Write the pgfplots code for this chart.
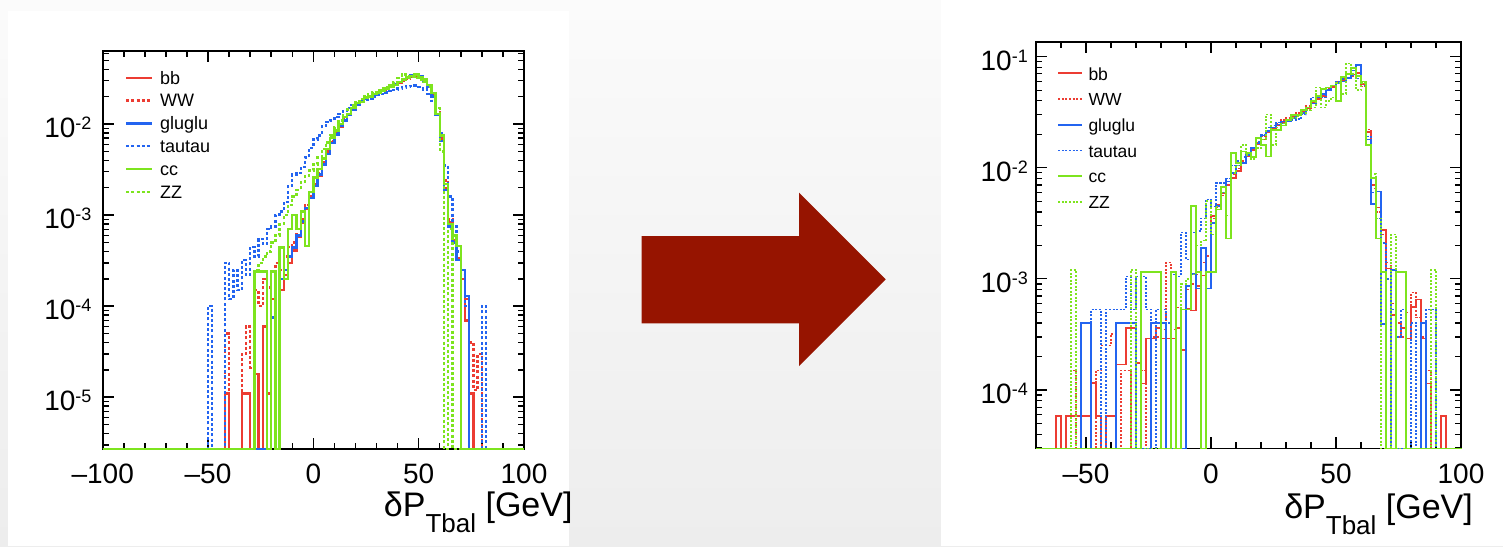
\documentclass[border=0pt]{standalone}
\usepackage{pgfplots}
\pgfplotsset{compat=1.18}
\usepackage{fontspec}
\setmainfont{Liberation Sans}
\definecolor{hred}{RGB}{236,60,50}
\definecolor{hblue}{RGB}{35,100,240}
\definecolor{hgreen}{RGB}{125,228,30}
\definecolor{arrowred}{RGB}{150,20,0}
\newcommand{\ex}[1]{10\raisebox{8.5pt}{\fontsize{18}{18}\selectfont #1}}
\begin{document}
\begin{tikzpicture}
\useasboundingbox (0pt,0pt) rectangle (1503pt,-546pt);
\shade[top color={rgb,255:red,251;green,251;blue,251}, bottom color={rgb,255:red,237;green,237;blue,237}] (0pt,0pt) rectangle (1503pt,-546pt);
\fill[white] (8pt,-11pt) rectangle (569pt,-546pt);
\fill[white] (940.7pt,0pt) rectangle (1503pt,-546pt);
\fill[arrowred] (641.7pt,-236pt) -- (799pt,-236pt) -- (799pt,-192.7pt) -- (885.7pt,-279.3pt) -- (799pt,-366pt) -- (799pt,-323.3pt) -- (641.7pt,-323.3pt) -- cycle;

% ---------------- LEFT ----------------
\begin{axis}[
  at={(102.7pt,-449pt)}, anchor=south west,
  scale only axis, width=421.3pt, height=398.3pt,
  ymode=log, xmin=-100, xmax=100, ymin=2.7e-6, ymax=0.064,
  clip=false,
  axis line style={line width=1.8pt},
  every tick/.style={black, line width=1.5pt},
  major tick length=11pt, minor tick length=6pt,
  xtick={-100,-50,0,50,100}, xticklabels={–100,–50,0,50,100},
  minor xtick={-90,-80,-70,-60,-40,-30,-20,-10,10,20,30,40,60,70,80,90},
  ytick={1e-5,1e-4,1e-3,1e-2},
  yticklabels={\ex{-5},\ex{-4},\ex{-3},\ex{-2}},
  minor ytick={3e-6,4e-6,5e-6,6e-6,7e-6,8e-6,9e-6,2e-5,3e-5,4e-5,5e-5,6e-5,7e-5,8e-5,9e-5,2e-4,3e-4,4e-4,5e-4,6e-4,7e-4,8e-4,9e-4,2e-3,3e-3,4e-3,5e-3,6e-3,7e-3,8e-3,9e-3,2e-2,3e-2,4e-2,5e-2,6e-2},
  xticklabel style={anchor=base, yshift=-34.7pt, inner sep=0pt, font=\fontsize{28}{28}\selectfont},
  yticklabel style={anchor=base east, xshift=-11pt, yshift=-13.5pt, inner sep=0pt, font=\fontsize{28}{28}\selectfont},
  legend style={at={(0.0529,0.9465)}, anchor=north west, draw=none, fill=none, inner sep=0pt, outer sep=0pt,
    row sep=7.8pt, column sep=7pt, font=\fontsize{18}{18}\selectfont,
    nodes={inner sep=0pt, text height=12pt, text depth=3pt}},
  legend cell align=left,
  legend image code/.code={\draw[#1] (0pt,1.8pt) -- (25.7pt,1.8pt);},
  solidL/.style={const plot, line width=2.4pt},
  dotL/.style={const plot, line width=2.4pt, dash pattern=on 3pt off 2.2pt},
]
\addplot[solidL, hred] coordinates {(-100,2.7e-6)(-42,1.1e-5)(-40,2.7e-6)(-34,1.1e-5)(-30,2.7e-6)(-28,1.8e-5)(-26,2.7e-6)(-24,6e-5)(-22,1.1e-5)(-20,1.2e-4)(-18,2.7e-6)(-16,1.5e-4)(-14,2.2e-4)(-12,3.0e-4)(-10,4.1e-4)(-8,5.8e-4)(-6,8.3e-4)(-4,1.18e-3)(-2,1.6e-3)(0,2.2e-3)(2,2.7e-3)(4,3.7e-3)(6,4.8e-3)(8,6.3e-3)(10,7.8e-3)(12,9.3e-3)(14,1.11e-2)(16,1.27e-2)(18,1.45e-2)(20,1.65e-2)(22,1.77e-2)(24,1.88e-2)(26,2.0e-2)(28,2.1e-2)(30,2.2e-2)(32,2.3e-2)(34,2.43e-2)(36,2.56e-2)(38,2.7e-2)(40,2.85e-2)(42,3.05e-2)(44,3.2e-2)(46,3.35e-2)(48,3.4e-2)(50,3.3e-2)(52,3.0e-2)(54,2.56e-2)(56,2.06e-2)(58,1.27e-2)(60,6.85e-3)(62,2.0e-3)(64,8.3e-4)(66,5.3e-4)(68,3.4e-4)(70,2.0e-4)(72,7e-5)(74,1.1e-5)(76,2.7e-6)(100,2.7e-6)};
\addlegendentry{bb}
\addplot[dotL, hred] coordinates {(-100,2.7e-6)(-42,5e-5)(-40,2.7e-6)(-34,3e-5)(-32,6e-5)(-30,2.1e-5)(-28,1.5e-4)(-26,1e-4)(-24,2e-4)(-22,1.6e-4)(-20,2.4e-4)(-18,3e-4)(-16,2.5e-4)(-14,3.5e-4)(-12,4.5e-4)(-10,5e-4)(-8,7e-4)(-6,9e-4)(-4,1.3e-3)(-2,1.7e-3)(0,2.3e-3)(2,2.9e-3)(4,3.8e-3)(6,5.0e-3)(8,6.5e-3)(10,8.0e-3)(12,9.6e-3)(14,1.12e-2)(16,1.3e-2)(18,1.47e-2)(20,1.62e-2)(22,1.8e-2)(24,1.9e-2)(26,1.98e-2)(28,2.12e-2)(30,2.22e-2)(32,2.32e-2)(34,2.4e-2)(36,2.55e-2)(38,2.72e-2)(40,2.9e-2)(42,3.0e-2)(44,3.15e-2)(46,3.3e-2)(48,3.35e-2)(50,3.25e-2)(52,3.05e-2)(54,2.6e-2)(56,2.1e-2)(58,1.35e-2)(60,7.2e-3)(62,2.4e-3)(64,9e-4)(66,6e-4)(68,4e-4)(70,2.2e-4)(72,1.2e-4)(74,4e-5)(76,1.2e-5)(78,3e-5)(80,2.7e-6)(100,2.7e-6)};
\addlegendentry{WW}
\addplot[solidL, hblue] coordinates {(-100,2.7e-6)(-20,7.5e-5)(-18,2.7e-6)(-16,2e-4)(-14,2.5e-4)(-12,3.5e-4)(-10,4.4e-4)(-8,6e-4)(-6,8.5e-4)(-4,1.2e-3)(-2,1.55e-3)(0,2.1e-3)(2,2.8e-3)(4,3.6e-3)(6,4.7e-3)(8,6.2e-3)(10,7.7e-3)(12,9.5e-3)(14,1.1e-2)(16,1.28e-2)(18,1.43e-2)(20,1.63e-2)(22,1.78e-2)(24,1.9e-2)(26,2.0e-2)(28,2.08e-2)(30,2.2e-2)(32,2.32e-2)(34,2.45e-2)(36,2.58e-2)(38,2.75e-2)(40,2.9e-2)(42,3.1e-2)(44,3.3e-2)(46,3.45e-2)(48,3.45e-2)(50,3.35e-2)(52,3.0e-2)(54,2.55e-2)(56,2.0e-2)(58,1.25e-2)(60,6.5e-3)(62,1.9e-3)(64,7.5e-4)(66,5e-4)(68,3.2e-4)(70,2.5e-4)(72,1.3e-4)(74,2.7e-6)(100,2.7e-6)};
\addlegendentry{gluglu}
\addplot[dotL, hblue] coordinates {(-100,2.7e-6)(-50,1e-4)(-48,2.7e-6)(-42,3e-4)(-40,1.2e-4)(-38,2.5e-4)(-36,1.5e-4)(-34,3.2e-4)(-32,2.2e-4)(-30,4.5e-4)(-28,3.5e-4)(-26,5.5e-4)(-24,4.8e-4)(-22,7e-4)(-20,7.5e-4)(-18,1e-3)(-16,1.1e-3)(-14,1.4e-3)(-12,2.1e-3)(-10,2.8e-3)(-8,2.9e-3)(-6,3.4e-3)(-4,4.3e-3)(-2,5.5e-3)(0,6.8e-3)(2,7.5e-3)(4,9.5e-3)(6,1.06e-2)(8,1.1e-2)(10,1.2e-2)(12,1.3e-2)(14,1.4e-2)(16,1.5e-2)(18,1.62e-2)(20,1.72e-2)(22,1.8e-2)(24,1.85e-2)(26,1.92e-2)(28,2.0e-2)(30,2.08e-2)(32,2.15e-2)(34,2.22e-2)(36,2.3e-2)(38,2.38e-2)(40,2.45e-2)(42,2.52e-2)(44,2.6e-2)(46,2.62e-2)(48,2.65e-2)(50,2.55e-2)(52,2.4e-2)(54,2.15e-2)(56,1.8e-2)(58,1.3e-2)(60,8e-3)(62,3.5e-3)(64,1.6e-3)(66,7.5e-4)(68,4e-4)(70,2.2e-4)(72,1e-4)(74,2.7e-6)(80,1e-4)(82,2.7e-6)(100,2.7e-6)};
\addlegendentry{tautau}
\addplot[solidL, hgreen] coordinates {(-100,2.7e-6)(-28,2.4e-4)(-22,2.7e-6)(-20,2.4e-4)(-18,2.7e-6)(-16,4.4e-4)(-14,2e-4)(-12,7e-4)(-10,1e-3)(-8,7e-4)(-6,1.1e-3)(-4,4.6e-4)(-2,1.8e-3)(0,2.6e-3)(2,3.2e-3)(4,4.2e-3)(6,5.3e-3)(8,7e-3)(10,8.5e-3)(12,1.0e-2)(14,1.2e-2)(16,1.3e-2)(18,1.5e-2)(20,1.7e-2)(22,1.75e-2)(24,1.95e-2)(26,2.0e-2)(28,2.15e-2)(30,2.2e-2)(32,2.35e-2)(34,2.45e-2)(36,2.6e-2)(38,2.7e-2)(40,2.9e-2)(42,3.1e-2)(44,3.25e-2)(46,3.4e-2)(48,3.5e-2)(50,3.3e-2)(52,3.1e-2)(54,2.7e-2)(56,2.2e-2)(58,1.3e-2)(60,7.5e-3)(62,2.2e-3)(64,8e-4)(66,6e-4)(68,4.6e-4)(70,2.7e-6)(100,2.7e-6)};
\addlegendentry{cc}
\addplot[dotL, hgreen] coordinates {(-100,2.7e-6)(-28,2.5e-4)(-26,3e-4)(-24,3.5e-4)(-22,4e-4)(-20,5e-4)(-18,6e-4)(-16,8e-4)(-14,1e-3)(-12,1.3e-3)(-10,1.6e-3)(-8,1.9e-3)(-6,2.3e-3)(-4,2.7e-3)(-2,3.1e-3)(0,3.6e-3)(2,4.3e-3)(4,5.3e-3)(6,6.3e-3)(8,7.5e-3)(10,9.3e-3)(12,1.1e-2)(14,1.25e-2)(16,1.45e-2)(18,1.6e-2)(20,1.75e-2)(22,1.9e-2)(24,2.05e-2)(26,2.15e-2)(28,2.25e-2)(30,2.35e-2)(32,2.45e-2)(34,2.55e-2)(36,2.7e-2)(38,2.9e-2)(40,3.2e-2)(42,3.5e-2)(44,3.4e-2)(46,3.3e-2)(48,3.2e-2)(50,3.1e-2)(52,2.9e-2)(54,2.6e-2)(56,2.2e-2)(58,1.5e-2)(60,5e-3)(62,2.7e-6)(64,7e-4)(66,2.7e-6)(100,2.7e-6)};
\addlegendentry{ZZ}
\end{axis}
\node[anchor=base east, inner sep=0pt] at (572.7pt,-516.7pt) {\fontsize{34}{34}\selectfont δP\raisebox{-16pt}{\fontsize{26}{26}\selectfont Tbal} [GeV]};

% ---------------- RIGHT ----------------
\begin{axis}[
  at={(1036pt,-448.3pt)}, anchor=south west,
  scale only axis, width=425pt, height=406.3pt,
  ymode=log, xmin=-70, xmax=100, ymin=2.98e-5, ymax=0.1355,
  clip=false,
  axis line style={line width=1.3pt},
  every tick/.style={black, line width=1.2pt},
  major tick length=11pt, minor tick length=6pt,
  xtick={-50,0,50,100}, xticklabels={–50,0,50,100},
  minor xtick={-60,-40,-30,-20,-10,10,20,30,40,60,70,80,90},
  ytick={1e-4,1e-3,1e-2,1e-1},
  yticklabels={\ex{-4},\ex{-3},\ex{-2},\ex{-1}},
  minor ytick={3e-5,4e-5,5e-5,6e-5,7e-5,8e-5,9e-5,2e-4,3e-4,4e-4,5e-4,6e-4,7e-4,8e-4,9e-4,2e-3,3e-3,4e-3,5e-3,6e-3,7e-3,8e-3,9e-3,2e-2,3e-2,4e-2,5e-2,6e-2,7e-2,8e-2,9e-2},
  xticklabel style={anchor=base, yshift=-35pt, inner sep=0pt, font=\fontsize{28}{28}\selectfont},
  yticklabel style={anchor=base east, xshift=-8pt, yshift=-14pt, inner sep=0pt, font=\fontsize{28}{28}\selectfont},
  legend style={at={(0.0501,0.936)}, anchor=north west, draw=none, fill=none, inner sep=0pt, outer sep=0pt,
    row sep=10.7pt, column sep=6pt, font=\fontsize{17.5}{17.5}\selectfont,
    nodes={inner sep=0pt, text height=12pt, text depth=3pt}},
  legend cell align=left,
  legend image code/.code={\draw[#1, line width=1.8pt] (0pt,2.2pt) -- (23.4pt,2.2pt);},
  solidR/.style={const plot, line width=1.6pt},
  dotR/.style={const plot, line width=1.4pt, dash pattern=on 2pt off 1.6pt},
]
\addplot[solidR, hred] coordinates {(-70,2.98e-5)(-62,5.8e-5)(-60,2.98e-5)(-58,5.8e-5)(-48,1.16e-4)(-46,5.8e-5)(-44,2.98e-5)(-42,5.8e-5)(-38,1.7e-4)(-34,3.6e-4)(-30,1.75e-4)(-28,1.14e-4)(-26,2.9e-4)(-22,3.6e-4)(-20,2.9e-4)(-14,3.6e-4)(-12,2.3e-4)(-10,5.4e-4)(-8,5.2e-4)(-6,8.6e-4)(-4,1.07e-3)(-2,1.15e-3)(0,3.67e-3)(2,4.6e-3)(4,5.9e-3)(6,7.0e-3)(8,8.1e-3)(10,9.4e-3)(12,1.09e-2)(14,1.26e-2)(16,1.45e-2)(18,1.62e-2)(20,1.8e-2)(22,2.08e-2)(24,2.24e-2)(26,2.4e-2)(28,2.58e-2)(30,2.68e-2)(32,2.88e-2)(34,3.0e-2)(36,3.2e-2)(38,3.45e-2)(40,3.85e-2)(42,4.14e-2)(44,4.45e-2)(46,4.96e-2)(48,5.33e-2)(50,5.73e-2)(52,6.2e-2)(54,6.4e-2)(56,6.9e-2)(58,7.1e-2)(60,5.7e-2)(62,2.1e-2)(64,7e-3)(66,4.4e-3)(68,2.75e-3)(70,1.24e-3)(72,4.7e-4)(74,3e-4)(76,3.6e-4)(78,2.9e-4)(80,5.6e-4)(82,6.5e-4)(84,2.9e-4)(86,1.14e-4)(88,2.98e-5)(92,5.8e-5)(94,2.98e-5)(100,2.98e-5)};
\addlegendentry{bb}
\addplot[dotR, hred] coordinates {(-70,2.98e-5)(-56,1.5e-4)(-54,2.98e-5)(-46,1.5e-4)(-44,2.5e-4)(-40,3.2e-4)(-38,2.98e-5)(-36,1.5e-4)(-32,2.98e-5)(-28,1.5e-4)(-26,2.98e-5)(-24,3e-4)(-20,3.5e-4)(-18,1.4e-3)(-16,3.5e-4)(-14,5.5e-4)(-12,2.3e-4)(-10,8e-4)(-8,9e-4)(-6,1.1e-3)(-4,1.4e-3)(-2,1.6e-3)(0,3.5e-3)(2,4.4e-3)(4,5.6e-3)(6,7.5e-3)(8,8.8e-3)(10,9.9e-3)(12,1.15e-2)(14,1.3e-2)(16,1.5e-2)(18,1.68e-2)(20,1.9e-2)(22,2.15e-2)(24,2.3e-2)(26,2.5e-2)(28,2.7e-2)(30,2.8e-2)(32,3.0e-2)(34,3.1e-2)(36,3.3e-2)(38,3.6e-2)(40,3.9e-2)(42,4.3e-2)(44,4.6e-2)(46,5.1e-2)(48,5.5e-2)(50,5.9e-2)(52,6.3e-2)(54,6.5e-2)(56,6.6e-2)(58,6.8e-2)(60,5.4e-2)(62,2.2e-2)(64,6.5e-3)(66,4e-3)(68,2.5e-3)(70,1.4e-3)(72,6e-4)(74,4e-4)(76,3e-4)(78,5e-4)(80,7.5e-4)(82,4.5e-4)(84,3e-4)(86,1.5e-4)(88,2.98e-5)(100,2.98e-5)};
\addlegendentry{WW}
\addplot[solidR, hblue] coordinates {(-70,2.98e-5)(-52,4e-4)(-48,2.98e-5)(-38,4e-4)(-30,2.98e-5)(-24,4e-4)(-18,2.98e-5)(-10,8.6e-4)(-8,1.1e-3)(-6,8.2e-4)(-4,1.9e-3)(-2,8.2e-4)(0,3.2e-3)(2,4.5e-3)(4,6e-3)(6,7.5e-3)(8,9e-3)(10,1.05e-2)(12,1.1e-2)(14,1.3e-2)(16,1.5e-2)(18,1.65e-2)(20,1.95e-2)(22,2.15e-2)(24,2.3e-2)(26,2.45e-2)(28,2.6e-2)(30,2.65e-2)(32,2.8e-2)(34,3.0e-2)(36,3.1e-2)(38,3.5e-2)(40,3.8e-2)(42,4.3e-2)(44,4.6e-2)(46,5.0e-2)(48,5.5e-2)(50,5.8e-2)(52,6.0e-2)(54,6.4e-2)(56,7.5e-2)(58,8.4e-2)(60,6e-2)(62,1.8e-2)(64,4.7e-3)(66,6.1e-3)(68,3.9e-4)(70,2.98e-5)(72,1.2e-3)(74,2.98e-5)(84,4e-4)(86,2.98e-5)(100,2.98e-5)};
\addlegendentry{gluglu}
\addplot[dotR, hblue] coordinates {(-70,2.98e-5)(-48,5.3e-4)(-44,2.98e-5)(-42,5.3e-4)(-34,1.05e-3)(-32,5.3e-4)(-30,1.05e-3)(-26,5.3e-4)(-24,2.98e-5)(-22,5.3e-4)(-18,4e-4)(-16,1.1e-3)(-14,1.05e-3)(-12,2.6e-3)(-10,1.5e-3)(-8,2.6e-3)(-6,2.7e-3)(-4,3.5e-3)(-2,5.2e-3)(0,4.5e-3)(2,7.3e-3)(4,7.3e-3)(6,8e-3)(8,1.05e-2)(10,1.15e-2)(12,1.25e-2)(14,1.35e-2)(16,1.5e-2)(18,1.7e-2)(20,2e-2)(22,2.3e-2)(24,2.4e-2)(26,2.55e-2)(28,2.5e-2)(30,2.6e-2)(32,2.7e-2)(34,2.75e-2)(36,3e-2)(38,3.5e-2)(40,4.3e-2)(42,4.4e-2)(44,4.3e-2)(46,5e-2)(48,5.5e-2)(50,5.9e-2)(52,6.3e-2)(54,6.5e-2)(56,6.8e-2)(58,6.4e-2)(60,5.5e-2)(62,1.9e-2)(64,6e-3)(66,3.5e-3)(68,2.1e-3)(70,1.0e-3)(72,5.3e-4)(74,3e-4)(76,5.3e-4)(78,2.98e-5)(80,4e-4)(82,2.98e-5)(86,5.3e-4)(90,2.98e-5)(100,2.98e-5)};
\addlegendentry{tautau}
\addplot[solidR, hgreen] coordinates {(-70,2.98e-5)(-28,1.15e-3)(-20,2.98e-5)(-16,1.15e-3)(-14,2.98e-5)(-12,5.3e-4)(-8,4.5e-3)(-6,1.15e-3)(-4,2.98e-5)(-2,1.15e-3)(2,4.2e-3)(4,6.7e-3)(6,2.3e-3)(8,1.35e-2)(10,1.1e-2)(12,1.4e-2)(14,1.35e-2)(16,1.25e-2)(18,1.85e-2)(20,1.6e-2)(22,1.26e-2)(24,2.2e-2)(26,2.2e-2)(28,2.4e-2)(30,2.7e-2)(32,3.0e-2)(34,3.0e-2)(36,3.3e-2)(38,3.5e-2)(40,4e-2)(42,4.4e-2)(44,5.1e-2)(46,5.3e-2)(48,5.5e-2)(50,4e-2)(52,6.6e-2)(54,7.0e-2)(56,7.9e-2)(58,6.7e-2)(60,6.0e-2)(62,1.6e-2)(64,8.1e-3)(66,2.3e-3)(68,1.15e-3)(70,2.98e-5)(74,1.15e-3)(78,2.98e-5)(100,2.98e-5)};
\addlegendentry{cc}
\addplot[dotR, hgreen] coordinates {(-70,2.98e-5)(-56,1.2e-3)(-54,2.98e-5)(-32,1.2e-3)(-30,2.98e-5)(-12,9e-4)(-10,1.0e-3)(-8,1.1e-3)(-6,2e-3)(-4,2.2e-3)(-2,5e-3)(0,2.5e-3)(2,4.5e-3)(4,6e-3)(6,3.7e-3)(8,9e-3)(10,1.05e-2)(12,1.6e-2)(14,1.3e-2)(16,1.2e-2)(18,1.5e-2)(20,1.8e-2)(22,3e-2)(24,1.6e-2)(26,2.3e-2)(28,2.5e-2)(30,2.7e-2)(32,2.8e-2)(34,2.9e-2)(36,3.1e-2)(38,3.3e-2)(40,3.5e-2)(42,5.3e-2)(44,3.5e-2)(46,4.0e-2)(48,4.3e-2)(50,5.8e-2)(52,4.6e-2)(54,8.7e-2)(56,7e-2)(58,5e-2)(60,5.8e-2)(62,1.6e-2)(64,8.8e-3)(66,3.5e-3)(68,2.98e-5)(72,2.5e-3)(74,2.98e-5)(88,1.2e-3)(90,2.98e-5)(100,2.98e-5)};
\addlegendentry{ZZ}
\end{axis}
\node[anchor=base east, inner sep=0pt] at (1473pt,-518pt) {\fontsize{34}{34}\selectfont δP\raisebox{-16pt}{\fontsize{26}{26}\selectfont Tbal} [GeV]};
\end{tikzpicture}
\end{document}
